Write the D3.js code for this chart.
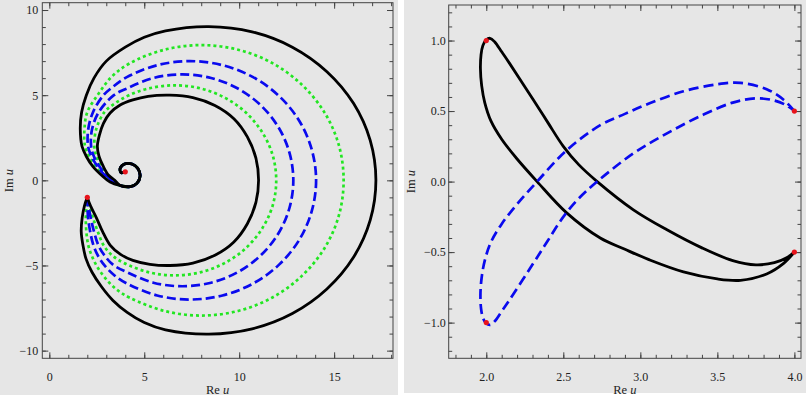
<!DOCTYPE html>
<html>
<head>
<meta charset="utf-8">
<script src="https://cdn.jsdelivr.net/npm/d3@7"></script>
<style>
  body { margin: 0; background: #fff; }
  svg { display: block; }
  text { font-family: "Liberation Serif", "Times New Roman", "DejaVu Serif", serif !important; fill: #222; }
</style>
</head>
<body>
<svg id="chart" width="808" height="396"></svg>
<script>
// ---- left panel: curves in the complex u plane (all start at the cusp 2 - i) ----
var blackOuter = [[2,-1],[1.85,-1.5],[1.73,-2.2],[1.68,-3.0],[1.77,-3.8],[1.93,-4.6],[2.25,-5.4],[2.75,-6.25],[3.35,-7.05],[4.1,-7.75],[5.0,-8.35],[6.12,-8.78],[8.4,-9.03],[10.68,-8.72],[12.8,-7.82],[14.62,-6.38],[16.02,-4.52],[16.9,-2.34],[17.2,0],[16.9,2.34],[16.02,4.52],[14.62,6.38],[12.8,7.82],[10.68,8.72],[8.4,9.03],[6.12,8.78],[5.0,8.4],[4.0,7.82],[3.0,7.0],[2.35,6.0],[1.95,5.0],[1.7,4.0],[1.63,3.0],[1.72,2.0],[1.95,1.4],[2.3,0.8],[2.75,0.3],[3.2,-0.1]];
var greenOuter = [[2,-1],[1.96,-1.5],[1.92,-2.2],[1.95,-3.0],[2.05,-3.8],[2.3,-4.6],[2.65,-5.3],[3.15,-6.0],[3.65,-6.5],[4.25,-6.9],[6.06,-7.67],[8.0,-7.94],[9.94,-7.67],[11.75,-6.88],[13.3,-5.61],[14.5,-3.97],[15.25,-2.06],[15.5,0],[15.25,2.06],[14.5,3.97],[13.3,5.61],[11.75,6.88],[9.94,7.67],[8.0,7.94],[6.06,7.67],[4.25,6.88],[3.3,6.1],[2.6,5.1],[2.0,4.0],[1.85,3.0],[1.88,2.0],[2.1,1.4],[2.45,0.8],[2.85,0.3],[3.25,-0.08]];
var blueOuter = [[2,-1],[2.01,-1.5],[2.04,-2.2],[2.15,-3.0],[2.32,-3.8],[2.6,-4.5],[2.95,-5.05],[3.45,-5.6],[4.08,-6.06],[5.68,-6.76],[7.4,-7.0],[9.12,-6.76],[10.73,-6.06],[12.1,-4.95],[13.16,-3.5],[13.82,-1.81],[14.05,0],[13.82,1.81],[13.16,3.5],[12.1,4.95],[10.73,6.06],[9.12,6.76],[7.4,7.0],[5.68,6.76],[4.08,6.06],[3.3,5.45],[2.85,5.0],[2.3,4.0],[2.05,3.0],[2.04,2.0],[2.22,1.4],[2.55,0.8],[2.92,0.3],[3.3,-0.06]];
var blueInner = [[2,-1],[2.06,-1.5],[2.18,-2.2],[2.35,-3.0],[2.58,-3.8],[2.9,-4.4],[3.35,-4.95],[4.08,-5.39],[5.48,-6.01],[7.0,-6.22],[8.52,-6.01],[9.93,-5.39],[11.14,-4.4],[12.07,-3.11],[12.65,-1.61],[12.85,0],[12.65,1.61],[12.07,3.11],[11.14,4.4],[9.93,5.39],[8.52,6.01],[7.0,6.22],[5.48,6.01],[4.08,5.39],[3.4,5.0],[2.6,4.0],[2.25,3.0],[2.2,2.0],[2.35,1.4],[2.65,0.8],[3.0,0.3],[3.35,-0.04]];
var greenInner = [[2,-1],[2.11,-1.5],[2.3,-2.2],[2.55,-3.0],[2.85,-3.8],[3.3,-4.4],[3.93,-4.85],[5.21,-5.39],[6.6,-5.58],[7.99,-5.39],[9.28,-4.83],[10.38,-3.95],[11.23,-2.79],[11.77,-1.45],[11.95,0],[11.77,1.45],[11.23,2.79],[10.38,3.95],[9.28,4.83],[7.99,5.39],[6.6,5.58],[5.21,5.39],[4.2,5.0],[3.5,4.55],[2.9,4.0],[2.47,3.0],[2.37,2.0],[2.48,1.4],[2.75,0.8],[3.07,0.3],[3.4,-0.02]];
var blackInner = [[2,-1],[2.17,-1.5],[2.48,-2.2],[2.8,-3.0],[3.2,-3.8],[3.75,-4.35],[4.4,-4.7],[5.3,-4.93],[6.35,-5.0],[7.56,-4.86],[8.72,-4.4],[9.72,-3.62],[10.43,-2.55],[10.88,-1.3],[11.02,0],[10.88,1.3],[10.43,2.55],[9.72,3.62],[8.72,4.4],[7.56,4.86],[6.35,5.0],[5.2,4.93],[4.4,4.72],[3.73,4.42],[3.2,3.95],[2.85,3.35],[2.65,2.7],[2.53,2.0],[2.62,1.4],[2.85,0.8],[3.12,0.3],[3.45,0.0]];
// every curve winds into the same small spiral around u = 4 + 0.5i
var spiralTail = [[3.73,-0.3],[4.26,-0.37],[4.61,-0.18],[4.78,0.25],[4.66,0.7],[4.35,0.96],[3.96,0.96],[3.73,0.7],[3.78,0.45],[4.0,0.5]];
var leftPoints = [[2,-1],[4,0.5]];
var leftXMajor = [0,5,10,15];
var leftYMajor = [-10,-5,0,5,10];

// ---- right panel: two closed loops ----
var rightBlack = [[4.0,-0.5],[3.93,-0.58],[3.82,-0.655],[3.65,-0.7],[3.5,-0.69],[3.28,-0.64],[3.06,-0.555],[2.9,-0.48],[2.74,-0.4],[2.52,-0.22],[2.33,0.0],[2.2,0.16],[2.1,0.3],[2.03,0.43],[1.99,0.56],[1.97,0.68],[1.962,0.8],[1.966,0.9],[1.978,0.965],[1.998,1.003],[2.025,1.016],[2.055,0.99],[2.1,0.92],[2.15,0.84],[2.305,0.58],[2.4,0.418],[2.5,0.25],[2.6,0.12],[2.72,0.0],[2.955,-0.2],[3.17,-0.34],[3.4,-0.47],[3.6,-0.56],[3.75,-0.59],[3.87,-0.575],[3.95,-0.54],[4.0,-0.5]];
var rightBlue = [[4.0,0.5],[3.93,0.58],[3.82,0.655],[3.65,0.7],[3.5,0.69],[3.28,0.64],[3.06,0.555],[2.9,0.48],[2.74,0.4],[2.52,0.22],[2.33,0.0],[2.2,-0.16],[2.1,-0.3],[2.03,-0.43],[1.99,-0.56],[1.97,-0.68],[1.962,-0.8],[1.966,-0.9],[1.978,-0.965],[1.998,-1.003],[2.025,-1.016],[2.055,-0.99],[2.1,-0.92],[2.15,-0.84],[2.305,-0.58],[2.4,-0.418],[2.5,-0.25],[2.6,-0.12],[2.72,0.0],[2.955,0.2],[3.17,0.34],[3.4,0.47],[3.6,0.56],[3.75,0.59],[3.87,0.575],[3.95,0.54],[4.0,0.5]];
var rightPoints = [[2,1],[4,0.5],[4,-0.5],[2,-1]];
var rightXMajor = [2.0,2.5,3.0,3.5,4.0];
var rightYMajor = [-1.0,-0.5,0.0,0.5,1.0];

var svg = d3.select('#chart');
var frameColor = '#444';
var serif = '"Liberation Serif", "Times New Roman", serif';

function minus(s) { return s.charAt(0) === '-' ? '\u2212' + s.slice(1) : s; }

function panel(o) {
  var g = svg.append('g');
  g.append('rect')
   .attr('x', o.bg[0]).attr('y', o.bg[1])
   .attr('width', o.bg[2]).attr('height', o.bg[3])
   .attr('fill', '#e6e6e6');

  var x = d3.scaleLinear().domain(o.xDomain).range([o.left, o.right]);
  var y = d3.scaleLinear().domain(o.yDomain).range([o.bottom, o.top]);

  var fmtX = function (d) { return minus(d3.format(o.xFmt)(d)); };
  var fmtY = function (d) { return minus(d3.format(o.yFmt)(d)); };
  var blank = function () { return ''; };

  // major + minor ticks on all four sides, pointing inward
  var sides = [
    {make: d3.axisBottom, scale: x, at: 'translate(0,' + o.bottom + ')', major: o.xMajor, minor: o.xMinor, fmt: fmtX, pad: 14.5},
    {make: d3.axisTop,    scale: x, at: 'translate(0,' + o.top + ')',    major: o.xMajor, minor: o.xMinor, fmt: blank, pad: 0},
    {make: d3.axisLeft,   scale: y, at: 'translate(' + o.left + ',0)',   major: o.yMajor, minor: o.yMinor, fmt: fmtY, pad: o.yPad},
    {make: d3.axisRight,  scale: y, at: 'translate(' + o.right + ',0)',  major: o.yMajor, minor: o.yMinor, fmt: blank, pad: 0}
  ];
  sides.forEach(function (s) {
    var major = g.append('g').attr('transform', s.at)
      .call(s.make(s.scale).tickValues(s.major).tickSize(-6).tickPadding(s.pad).tickFormat(s.fmt));
    major.attr('font-family', serif);
    major.select('.domain').remove();
    major.selectAll('line').attr('stroke', frameColor);
    major.selectAll('text').attr('font-size', 12).attr('fill', '#222');

    var minor = g.append('g').attr('transform', s.at)
      .call(s.make(s.scale).tickValues(s.minor).tickSize(-3.5).tickFormat(''));
    minor.select('.domain').remove();
    minor.selectAll('line').attr('stroke', frameColor);
  });

  g.append('rect')
   .attr('x', o.left).attr('y', o.top)
   .attr('width', o.right - o.left).attr('height', o.bottom - o.top)
   .attr('fill', 'none').attr('stroke', frameColor).attr('stroke-width', 1);

  var clipId = 'clip' + o.id;
  g.append('clipPath').attr('id', clipId).append('rect')
   .attr('x', o.left).attr('y', o.top)
   .attr('width', o.right - o.left).attr('height', o.bottom - o.top);

  var line = d3.line()
    .x(function (d) { return x(d[0]); })
    .y(function (d) { return y(d[1]); })
    .curve(d3.curveCatmullRom.alpha(0.5));

  var plot = g.append('g').attr('clip-path', 'url(#' + clipId + ')');
  o.curves.forEach(function (c) {
    plot.append('path')
      .attr('d', line(c.data))
      .attr('fill', 'none')
      .attr('stroke', c.color)
      .attr('stroke-width', c.width)
      .attr('stroke-dasharray', c.dash || null)
      .attr('stroke-linejoin', 'round');
  });

  plot.selectAll('circle.pt')
    .data(o.points)
    .enter().append('circle')
    .attr('class', 'pt')
    .attr('cx', function (d) { return x(d[0]); })
    .attr('cy', function (d) { return y(d[1]); })
    .attr('r', 2.6)
    .attr('fill', '#e8141c');

  // axis titles
  var xt = g.append('text').attr('x', (o.left + o.right) / 2).attr('y', 393.5)
    .attr('text-anchor', 'middle').attr('font-size', 12.5);
  xt.append('tspan').text('Re ');
  xt.append('tspan').style('font-style', 'italic').text('u');

  var yt = g.append('text')
    .attr('transform', 'translate(' + o.yTitleX + ',' + (o.top + o.bottom) / 2 + ') rotate(-90)')
    .attr('text-anchor', 'middle').attr('font-size', 12.5);
  yt.append('tspan').text('Im ');
  yt.append('tspan').style('font-style', 'italic').text('u');
}

var black = '#000', green = '#22e622', blue = '#0a0aee';

panel({
  id: 'L', bg: [0, 0, 398, 395],
  left: 42.3, right: 393, top: 2.7, bottom: 358.3,
  xDomain: [-0.37, 18.1], yDomain: [-10.45, 10.43],
  xMajor: leftXMajor, yMajor: leftYMajor,
  xMinor: d3.range(0, 19, 1), yMinor: d3.range(-10, 11, 1),
  xFmt: 'd', yFmt: 'd', yPad: 4, yTitleX: 13,
  curves: [
    {data: greenOuter.concat(spiralTail), color: green, width: 2.7, dash: '3,3'},
    {data: greenInner.concat(spiralTail), color: green, width: 2.7, dash: '3,3'},
    {data: blueOuter.concat(spiralTail), color: blue, width: 2.7, dash: '9,4'},
    {data: blueInner.concat(spiralTail), color: blue, width: 2.7, dash: '9,4'},
    {data: blackOuter.concat(spiralTail), color: black, width: 2.8},
    {data: blackInner.concat(spiralTail), color: black, width: 2.8}
  ],
  points: leftPoints
});

panel({
  id: 'R', bg: [404, 0, 402, 393],
  left: 448.7, right: 801, top: 5, bottom: 358.3,
  xDomain: [1.756, 4.043], yDomain: [-1.253, 1.252],
  xMajor: rightXMajor, yMajor: rightYMajor,
  xMinor: d3.range(1.8, 4.05, 0.1), yMinor: d3.range(-1.2, 1.25, 0.1),
  xFmt: '.1f', yFmt: '.1f', yPad: 3, yTitleX: 415,
  curves: [
    {data: rightBlack, color: black, width: 2.8},
    {data: rightBlue, color: blue, width: 2.7, dash: '10,5'}
  ],
  points: rightPoints
});
</script>
</body>
</html>
